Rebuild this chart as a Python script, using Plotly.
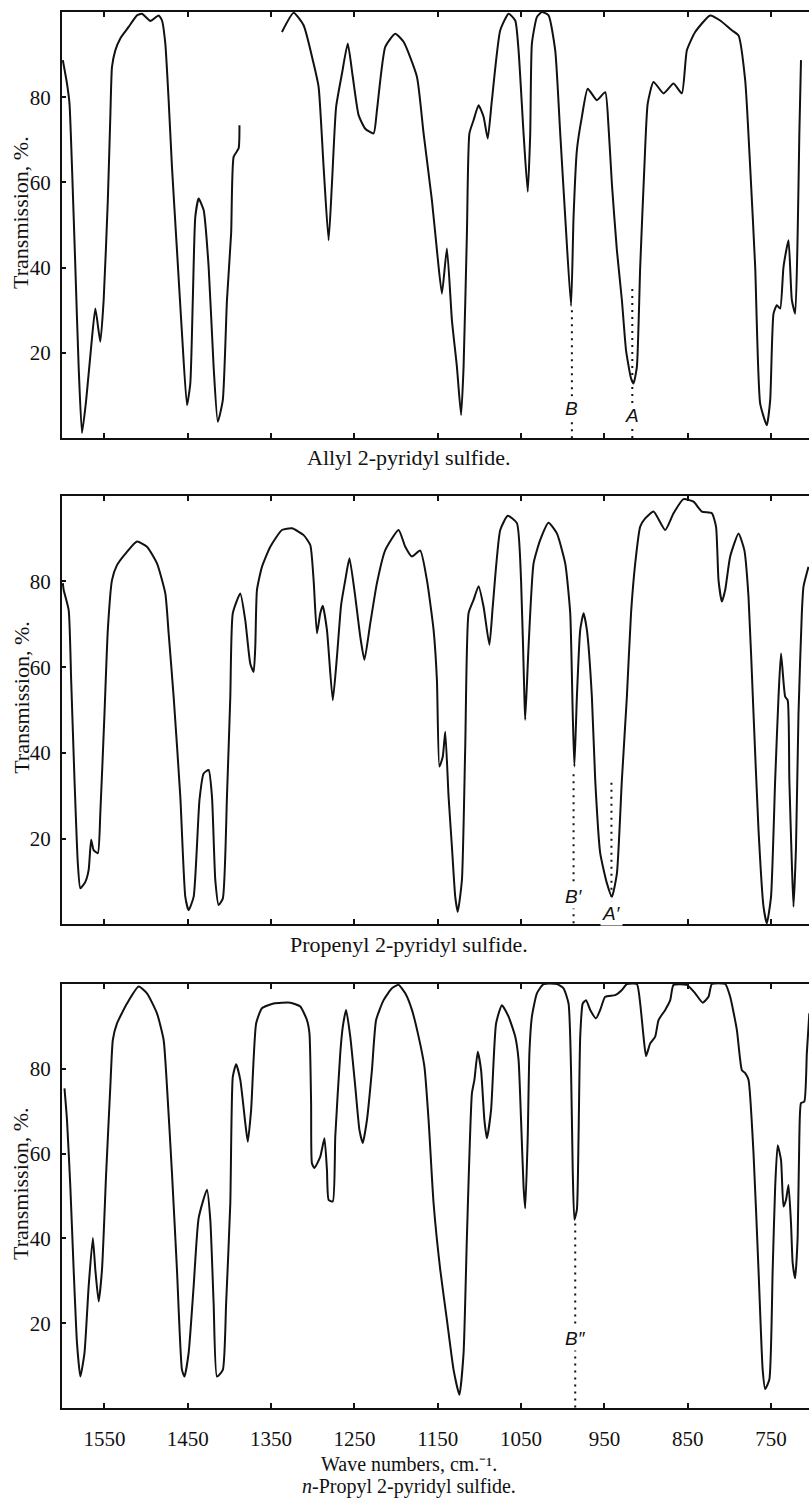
import plotly.graph_objects as go

# ---------------- data (wave number cm^-1, transmission %) ----------------
wn_allyl = [1600, 1595, 1592, 1589, 1585, 1581, 1577, 1572, 1566, 1561,
            1555, 1551, 1546, 1543, 1541, 1537, 1531, 1521, 1511, 1505,
            1495, 1485, 1481, 1477, 1473, 1469, 1463, 1457, 1451, 1447,
            1444, 1441, 1437, 1431, 1425, 1419, 1414, 1408, 1403, 1398,
            1395, 1389, 1388, None, 1337, 1323, 1311, 1299, 1293, 1287,
            1281, 1277, 1272, 1265, 1258, 1252, 1245, 1237, 1227, 1223,
            1213, 1201, 1191, 1175, 1167, 1157, 1151, 1145, 1139, 1133,
            1127, 1122, 1119, 1115, 1112, 1107, 1101, 1095, 1090, 1085,
            1075, 1065, 1057, 1053, 1047, 1042, 1039, 1037, 1031, 1025,
            1017, 1009, 1003, 997, 990, 987, 983, 977, 970, 959,
            949, 945, 941, 935, 929, 924, 918, 915, 911, 907,
            902, 898, 891, 879, 867, 857, 851, 841, 823, 811,
            797, 789, 781, 775, 769, 763, 755, 751, 747, 743,
            739, 735, 729, 725, 721, 718, 716, 714]
t_allyl = [88.7, 83.2, 78.5, 63.6, 40.2, 16.7, 1.2, 8.9, 21.4, 30.4,
           22.6, 32.4, 55.8, 75.4, 87.1, 91, 93.8, 96.5, 99.2, 99.6,
           97.9, 99.2, 98, 92.6, 79.3, 63.6, 44.1, 24.6, 7.7, 12.8,
           32.4, 51.9, 56.2, 53.5, 40.2, 16.7, 3.8, 8.9, 32.4, 48,
           66, 68, 73.4, None, 95.3, 99.8, 96.9, 87.9, 82.4, 63.6,
           46.4, 59.7, 77.7, 85.5, 92.6, 84.8, 75.8, 72.6, 71.5, 76.9,
           91.8, 94.9, 93, 84.8, 71.5, 55.8, 44.1, 33.9, 44.5, 27.7,
           16.7, 5.4, 16.7, 48, 71.5, 74.6, 78.1, 75.4, 70.3, 79.3,
           95.7, 99.6, 98, 91, 71.5, 57.8, 71.5, 92.6, 98.8, 100,
           99.2, 91, 71.5, 51.9, 31, 51.9, 67.6, 75.4, 82, 79.3,
           81.2, 73, 59.7, 44.1, 32.4, 20.6, 14, 12.8, 16.7, 40.2,
           63.6, 78.5, 83.6, 80.9, 83.2, 80.9, 91, 95.3, 99.2, 98,
           95.7, 94.5, 84, 63.6, 40.2, 8.1, 3, 8.9, 29.2, 31.2,
           30.4, 40.2, 46.4, 32.4, 29.2, 48, 71.5, 88.7]

wn_propenyl = [1600, 1599, 1593, 1590, 1586, 1582, 1579, 1573, 1569, 1566,
               1563, 1558, 1555, 1550, 1546, 1541, 1535, 1523, 1511, 1499,
               1487, 1477, 1473, 1467, 1459, 1453, 1449, 1443, 1436, 1431,
               1425, 1421, 1417, 1413, 1408, 1403, 1399, 1396, 1387, 1381,
               1375, 1371, 1369, 1367, 1361, 1351, 1337, 1325, 1311, 1303,
               1299, 1295, 1291, 1288, 1283, 1276, 1271, 1266, 1261, 1256,
               1249, 1243, 1238, 1231, 1223, 1213, 1197, 1189, 1181, 1171,
               1163, 1155, 1151, 1148, 1144, 1141, 1137, 1133, 1129, 1126,
               1121, 1117, 1113, 1107, 1101, 1095, 1088, 1084, 1075, 1066,
               1055, 1050, 1046, 1045, 1041, 1035, 1027, 1017, 1007, 997,
               991, 988, 986, 983, 979, 975, 971, 965, 961, 955,
               947, 941, 935, 929, 923, 918, 913, 907, 901, 891,
               877, 867, 855, 843, 833, 821, 816, 813, 809, 805,
               799, 789, 782, 777, 771, 765, 759, 755, 750, 745,
               741, 738, 733, 730, 728, 725, 723, 720, 717, 713,
               711, 705]
t_propenyl = [79.6, 78, 73.3, 57, 33.7, 14.2, 8.4, 9.9, 12.7, 19.7,
              17.3, 16.6, 25.9, 49.2, 68.7, 80.3, 83.8, 86.9, 89.3, 88.1,
              84.2, 77.2, 67.9, 53.1, 29.8, 6.4, 3.3, 6.4, 29, 35.2,
              36, 29.8, 10.3, 4.5, 6, 29.8, 53.1, 72.6, 77.2, 70.9,
              60.8, 58.9, 64.8, 78, 83.4, 88.1, 92, 92.4, 90.8, 88.5,
              80.3, 67.9, 72.6, 74.3, 68.7, 52.3, 62.4, 74.5, 80.3, 85.4,
              76.4, 67.1, 61.7, 70.2, 79.6, 87.3, 92, 88.1, 85.8, 87.2,
              80.3, 68.7, 57, 36.8, 39.1, 44.9, 29.8, 18.1, 6.4, 2.9,
              10.3, 41.4, 72.6, 75.7, 78.9, 74.1, 65.2, 74.1, 92, 95.3,
              93.6, 80.3, 53.1, 47.7, 64.8, 84.2, 89.7, 93.7, 91.2, 84.2,
              72.6, 49.2, 36.8, 53.1, 68.7, 72.6, 68.7, 53.1, 33.7, 16.6,
              9.6, 6.4, 11.8, 33.7, 53.1, 72.6, 84.2, 92.8, 94.7, 96.3,
              92, 95.9, 99.2, 98.6, 96.3, 95.9, 92.8, 80.3, 75.3, 78,
              85.8, 91.2, 87.3, 76.4, 49.2, 22, 4.1, 0.2, 6.4, 33.7,
              53.1, 63.2, 53.1, 52.3, 33.7, 14.2, 4.1, 18.1, 49.2, 72.6,
              78.8, 83.4]

wn_propyl = [1598, 1595, 1591, 1587, 1583, 1579, 1574, 1569, 1564, 1561,
             1557, 1553, 1548, 1543, 1540, 1535, 1523, 1509, 1499, 1487,
             1479, 1475, 1469, 1463, 1457, 1454, 1449, 1443, 1437, 1427,
             1423, 1419, 1415, 1408, 1404, 1399, 1396, 1392, 1387, 1381,
             1378, 1374, 1368, 1361, 1347, 1327, 1315, 1307, 1304, 1302,
             1301, 1298, 1291, 1286, 1283, 1281, 1276, 1273, 1267, 1264,
             1260, 1255, 1249, 1244, 1240, 1235, 1229, 1224, 1215, 1205,
             1197, 1189, 1181, 1173, 1166, 1161, 1155, 1147, 1139, 1131,
             1124, 1119, 1115, 1109, 1106, 1102, 1098, 1094, 1091, 1086,
             1080, 1073, 1065, 1057, 1053, 1050, 1047, 1045, 1042, 1040,
             1037, 1031, 1023, 1007, 999, 993, 990, 988, 986, 983,
             981, 979, 976, 972, 967, 960, 955, 949, 937, 929,
             923, 911, 907, 903, 900, 895, 889, 885, 877, 871,
             867, 851, 841, 832, 825, 821, 805, 799, 791, 785,
             781, 777, 771, 765, 760, 757, 752, 748, 745, 742,
             738, 735, 732, 729, 726, 724, 721, 718, 716, 714,
             710, 707, 704]
t_propyl = [75.4, 67.9, 52.2, 32.6, 15.3, 7.4, 13, 28.7, 40.1, 32.6,
            25.1, 32.6, 55.4, 75.8, 86.8, 90.7, 95.4, 99.4, 97.8, 93.1,
            86.8, 75.8, 55.4, 32.6, 9, 7.4, 13, 28.7, 44.8, 51.5,
            44.4, 24.7, 7.4, 9, 24.7, 48.3, 78.1, 81.1, 77.4, 67.2,
            62.8, 70.3, 90.7, 94.3, 95.4, 95.6, 94.7, 91.5, 88.4, 71.9,
            57.7, 56.6, 59.3, 63.6, 56.2, 49.1, 48.7, 64, 83.7, 89.9,
            93.9, 87.6, 75.8, 65.6, 62.5, 67.9, 79.7, 91.5, 96.2, 99,
            99.8, 97.8, 93.9, 87.6, 80.5, 67.9, 48.3, 32.6, 20.8, 9,
            3.1, 13, 40.4, 74.2, 77.4, 84, 79.7, 67.9, 63.6, 70.3,
            90.7, 95, 92.3, 87.6, 82.1, 67.9, 52.2, 47.1, 64, 83.7,
            92.3, 97.8, 100, 100, 99, 95.4, 79.7, 56.2, 44.4, 46.8,
            64, 87.6, 95.4, 96.2, 93.9, 91.9, 93.9, 97, 97.4, 98.6,
            100, 100, 95.4, 87.6, 83, 86, 87.6, 91.5, 93.9, 96.2,
            99.8, 99.8, 97.8, 95.6, 97, 100, 100, 97, 89.2, 79.7,
            79, 77.4, 60.1, 32.6, 9, 4.5, 6.7, 32.6, 52.2, 62,
            58.5, 47.5, 49.1, 52.6, 43.6, 34.2, 30.6, 40.4, 64, 71.9,
            72.3, 83.7, 93.1]

x_tick_vals = [1550, 1450, 1350, 1250, 1150, 1050, 950, 850, 750]
x_tick_text = ["1550", "1450", "1350", "1250", "1150", "1050", "950", "850", "750"]
y_tick_vals = [20, 40, 60, 80]
y_tick_text = ["20", "40", "60", "80"]

captions = ["Allyl 2-pyridyl sulfide.",
            "Propenyl 2-pyridyl sulfide.",
            "<i>n</i>-Propyl 2-pyridyl sulfide."]
x_title = "Wave numbers, cm.⁻¹."
y_title = "Transmission, %."

# dotted band markers
mark_panel = [1, 1, 2, 2, 3]
mark_wn = [989, 916.5, 987, 941.5, 985]
mark_top = [30, 35, 35, 33, 43.5]
mark_label = ["B", "A", "B′", "A′", "B″"]
mark_label_y = [7, 5.4, 6.4, 2.6, 16.5]

# ---------------- figure ----------------
FONT = "Liberation Serif"
INK = "#111111"
x_range = [1601, 704.4]
domains = {1: [0.6948, 1.0], 2: [0.3465, 0.6535], 3: [0.0, 0.3037]}
series = {1: (wn_allyl, t_allyl), 2: (wn_propenyl, t_propenyl), 3: (wn_propyl, t_propyl)}

fig = go.Figure()
for p in (1, 2, 3):
    xs, ys = series[p]
    sfx = "" if p == 1 else str(p)
    fig.add_trace(go.Scatter(x=xs, y=ys, mode="lines", xaxis="x" + sfx, yaxis="y" + sfx,
                             line=dict(color=INK, width=2, shape="spline", smoothing=0.5),
                             connectgaps=False, hoverinfo="skip"))

for i in range(len(mark_wn)):
    p = mark_panel[i]
    sfx = "" if p == 1 else str(p)
    fig.add_trace(go.Scatter(x=[mark_wn[i], mark_wn[i]], y=[mark_top[i], 0], mode="lines",
                             xaxis="x" + sfx, yaxis="y" + sfx,
                             line=dict(color=INK, width=2, dash="2px,5px"),
                             hoverinfo="skip"))

layout = dict(width=809, height=1500, showlegend=False,
              paper_bgcolor="white", plot_bgcolor="white",
              margin=dict(l=62, r=0, t=12, b=92),
              font=dict(family=FONT, size=21, color=INK))

for p in (1, 2, 3):
    sfx = "" if p == 1 else str(p)
    layout["xaxis" + sfx] = dict(range=x_range, anchor="y" + sfx, domain=[0, 1],
                                 showline=True, linecolor=INK, linewidth=2, mirror="ticks",
                                 ticks="inside", ticklen=5, tickwidth=1.5, tickcolor=INK,
                                 tickvals=x_tick_vals, ticktext=x_tick_text,
                                 showticklabels=(p == 3), showgrid=False, zeroline=False,
                                 tickfont=dict(family=FONT, size=21, color=INK),
                                 ticklabelstandoff=11)
    layout["yaxis" + sfx] = dict(range=[0, 100], anchor="x" + sfx, domain=domains[p],
                                 showline=True, linecolor=INK, linewidth=2, mirror=False,
                                 ticks="inside", ticklen=4, tickwidth=1.5, tickcolor=INK,
                                 tickvals=y_tick_vals, ticktext=y_tick_text,
                                 showgrid=False, zeroline=False,
                                 tickfont=dict(family=FONT, size=21, color=INK),
                                 ticklabelstandoff=5)
fig.update_layout(**layout)

annotations = []
for p in (1, 2, 3):
    sfx = "" if p == 1 else str(p)
    annotations.append(dict(text=y_title, xref="paper", yref="y" + sfx,
                            x=-0.0553, y=53, textangle=-90, showarrow=False,
                            xanchor="center", yanchor="middle",
                            font=dict(family=FONT, size=22, color=INK)))

caption_y = [0.6812, 0.3317]
for i in range(2):
    annotations.append(dict(text=captions[i], xref="paper", yref="paper", x=0.4645, y=caption_y[i],
                            showarrow=False, xanchor="center", yanchor="middle",
                            font=dict(family=FONT, size=22, color=INK)))
annotations.append(dict(text=x_title, xref="paper", yref="paper",
                        x=0.4645, y=-0.0401, showarrow=False, xanchor="center", yanchor="middle",
                        font=dict(family=FONT, size=20, color=INK)))
annotations.append(dict(text=captions[2], xref="paper", yref="paper", x=0.4645, y=-0.0659,
                        showarrow=False, xanchor="center", yanchor="bottom",
                        font=dict(family=FONT, size=20, color=INK)))

for i in range(len(mark_wn)):
    p = mark_panel[i]
    sfx = "" if p == 1 else str(p)
    annotations.append(dict(text="<i>" + mark_label[i] + "</i>", xref="x" + sfx, yref="y" + sfx,
                            x=mark_wn[i], y=mark_label_y[i], showarrow=False,
                            xanchor="center", yanchor="middle", bgcolor="white",
                            font=dict(family="Liberation Sans", size=19, color=INK)))

fig.update_layout(annotations=annotations)
fig.write_html("out.html", config={"displayModeBar": False},
               post_script="document.body.style.margin='0';document.body.style.padding='0';")
